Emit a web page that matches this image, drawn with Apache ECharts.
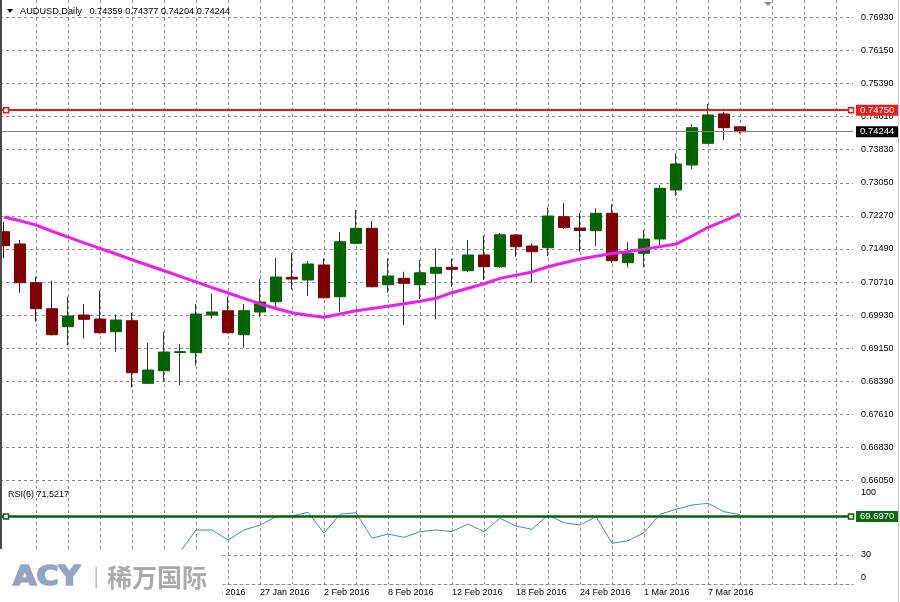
<!DOCTYPE html>
<html><head><meta charset="utf-8">
<script src="https://cdn.jsdelivr.net/npm/echarts@6/dist/echarts.min.js"></script>
<style>html,body{margin:0;padding:0;background:#fff}#c{width:900px;height:602px}</style>
</head><body><div id="c"></div>
<script>
// ---------------- data ----------------
const symbolName = 'AUDUSD,Daily';
const dates = ['5 Jan 2016','6 Jan 2016','7 Jan 2016','8 Jan 2016','11 Jan 2016','12 Jan 2016','13 Jan 2016','14 Jan 2016','15 Jan 2016','18 Jan 2016','19 Jan 2016','20 Jan 2016','21 Jan 2016','22 Jan 2016','25 Jan 2016','26 Jan 2016','27 Jan 2016','28 Jan 2016','29 Jan 2016',
 '1 Feb 2016','2 Feb 2016','3 Feb 2016','4 Feb 2016','5 Feb 2016','8 Feb 2016','9 Feb 2016','10 Feb 2016','11 Feb 2016','12 Feb 2016','15 Feb 2016','16 Feb 2016','17 Feb 2016','18 Feb 2016','19 Feb 2016','22 Feb 2016','23 Feb 2016','24 Feb 2016','25 Feb 2016','26 Feb 2016','29 Feb 2016',
 '1 Mar 2016','2 Mar 2016','3 Mar 2016','4 Mar 2016','7 Mar 2016','8 Mar 2016','9 Mar 2016'];
const opens  = [0.71896,0.71607,0.70698,0.70088,0.69665,0.69940,0.69846,0.69548,0.69806,0.68336,0.68632,0.69060,0.69055,0.69940,0.70041,0.69477,0.70011,0.70252,0.70825,0.70762,0.71114,0.70370,0.71623,0.71976,0.70651,0.70802,0.70651,0.70919,0.71060,0.70980,0.71349,0.71074,0.71819,0.71560,0.71520,0.72248,0.71983,0.71919,0.72328,0.71168,0.71389,0.71724,0.72875,0.73462,0.73971,0.74660,0.74359];
const highs  = [0.72131,0.71701,0.70839,0.70745,0.70370,0.70198,0.70511,0.69956,0.69994,0.69290,0.69548,0.69259,0.70198,0.70449,0.70370,0.70198,0.70785,0.71285,0.71403,0.71208,0.71271,0.71889,0.72406,0.72147,0.71271,0.70957,0.71232,0.71506,0.71262,0.71701,0.71802,0.71866,0.71842,0.71623,0.72469,0.72563,0.72328,0.72445,0.72539,0.71654,0.71936,0.72992,0.73737,0.74418,0.74894,0.74714,0.74377];
const lows   = [0.71271,0.70464,0.69783,0.69460,0.69229,0.69393,0.69500,0.69078,0.68242,0.68320,0.68374,0.68289,0.68750,0.69853,0.69500,0.69172,0.69886,0.70057,0.70543,0.70386,0.70330,0.70017,0.71600,0.70590,0.70464,0.69705,0.70316,0.69839,0.70604,0.70950,0.70762,0.71044,0.71309,0.70698,0.71325,0.71959,0.71426,0.71560,0.71154,0.71060,0.71060,0.71584,0.72734,0.73361,0.73960,0.74049,0.74204];
const closes = [0.71567,0.70698,0.70088,0.69477,0.69917,0.69839,0.69524,0.69823,0.68585,0.68649,0.69071,0.69080,0.69964,0.70011,0.69524,0.70041,0.70245,0.70832,0.70785,0.71137,0.70346,0.71661,0.71976,0.70604,0.70856,0.70684,0.70933,0.71060,0.71013,0.71349,0.71074,0.71826,0.71544,0.71426,0.72264,0.71994,0.71924,0.72328,0.71215,0.71389,0.71724,0.72915,0.73486,0.74338,0.74636,0.74338,0.74244];
const maValues = [0.72243,0.72152,0.72051,0.71907,0.71767,0.71635,0.71506,0.71372,0.71238,0.71109,0.70980,0.70849,0.70717,0.70584,0.70456,0.70332,0.70203,0.70093,0.69992,0.69933,0.69888,0.69966,0.70039,0.70093,0.70144,0.70203,0.70261,0.70334,0.70464,0.70569,0.70675,0.70801,0.70877,0.70952,0.71074,0.71168,0.71255,0.71321,0.71384,0.71430,0.71485,0.71546,0.71605,0.71795,0.72000,0.72152,0.72312];
const rsiValues = [30,22,18,14,24,22,19,27,15,22,30,33,55.7,55.7,45.4,55.7,60.8,69.4,70.1,73.9,52.3,71.9,73.5,47.1,51.5,48.1,53.9,55.7,54.1,61.9,53.9,67.7,59.8,56.4,71.1,63.2,60.8,69.4,42.0,44.6,52.9,71.9,77.0,81.4,83.2,74.5,71.5217];
const priceTickLabels = ['0.66050','0.66830','0.67610','0.68390','0.69150','0.69930','0.70710','0.71490','0.72270','0.73050','0.73830','0.74610','0.75390','0.76150','0.76930'];
const rsiTickLabels = {0:'0', 30:'30', 100:'100'};
const resistanceLevel = 0.7475;
const rsiLineLevel = 69.697;
const rsiLevels = [30, 70];
const rsiName = 'RSI(6)';

// ---------------- layout ----------------
const W = 900, H = 602;
const FONT = '"Liberation Sans", Arial, sans-serif';
const BAR_PX = 16, BAR0_PX = 4, PLOT_R = 853;
const xMin = (0 - BAR0_PX) / BAR_PX, xMax = (PLOT_R - BAR0_PX) / BAR_PX;
const PMIN = 0.6605, PSTEP = (0.7693 - 0.6605) / 14, PMAX = PMIN + 15 * PSTEP;
const GRID_PX = 33.1, P_BOTTOM = 480.7, P_TOP = P_BOTTOM - 15 * GRID_PX;
const RSI_TOP = 487, RSI_BOTTOM = 584;
const handleX = [(6 - BAR0_PX) / BAR_PX, (851 - BAR0_PX) / BAR_PX];
const gridColor = '#8a8a8a';
const last = dates.length - 1;

const candleData = dates.map((d, i) => [i, opens[i], closes[i], lows[i], highs[i]]);
const maData = maValues.map((v, i) => [i, v]);
const rsiData = rsiValues.map((v, i) => [i, v]);

function tag(text, bg) {
  return { show: true, position: 'end', distance: 3, formatter: text, backgroundColor: bg, color: '#fff',
    fontFamily: FONT, fontSize: 9.5, lineHeight: 10, padding: [1, 5, 0, 4], width: 34 };
}
function hline(y, lineStyle, label) {
  return [{ coord: [xMin, y], lineStyle: lineStyle, label: label || { show: false } }, { coord: [xMax, y] }];
}
function handles(y, color) {
  return { symbol: 'rect', symbolSize: 5, silent: true, animation: false, label: { show: false },
    itemStyle: { color: '#fff', borderColor: color, borderWidth: 1.5 },
    data: handleX.map(x => ({ coord: [x, y] })) };
}
const gridBase = { containLabel: false, outerBoundsMode: 'none' };

const chart = echarts.init(document.getElementById('c'), null, { renderer: 'canvas' });
chart.setOption({
  animation: false,
  backgroundColor: '#fff',
  grid: [
    Object.assign({ left: 0, right: W - PLOT_R, top: P_TOP, height: P_BOTTOM - P_TOP }, gridBase),
    Object.assign({ left: 0, right: W - PLOT_R, top: RSI_TOP, height: RSI_BOTTOM - RSI_TOP }, gridBase),
    Object.assign({ left: BAR0_PX + 2 * BAR_PX, right: W - (BAR0_PX + 52 * BAR_PX), top: 0, height: RSI_BOTTOM }, gridBase)
  ],
  xAxis: [
    { gridIndex: 0, type: 'value', min: xMin, max: xMax, show: false, splitLine: { show: false } },
    { gridIndex: 1, type: 'value', min: xMin, max: xMax, axisLabel: { show: false }, axisTick: { show: false },
      splitLine: { show: false }, axisLine: { show: true, lineStyle: { color: gridColor, type: [3, 3], width: 1 } } },
    { gridIndex: 2, type: 'value', min: 2, max: 52, interval: 2, axisLine: { show: false }, axisTick: { show: false },
      splitLine: { show: true, lineStyle: { color: gridColor, type: [3, 3], width: 1 } },
      axisLabel: { show: true, margin: 4, align: 'left', color: '#000', fontFamily: FONT, fontSize: 9,
        formatter: v => (v % 4 === 0 && v <= last) ? dates[v] : '' } }
  ],
  yAxis: [
    { gridIndex: 0, type: 'value', position: 'right', min: PMIN, max: PMAX, interval: PSTEP,
      axisLine: { show: false }, axisTick: { show: false },
      splitLine: { show: true, lineStyle: { color: gridColor, type: [3, 3], width: 1 } },
      axisLabel: { margin: 8, color: '#000', fontFamily: FONT, fontSize: 9,
        formatter: v => { const k = Math.round((v - PMIN) / PSTEP); return priceTickLabels[k] || ''; } } },
    { gridIndex: 1, type: 'value', position: 'right', min: 0, max: 100, interval: 10,
      axisLine: { show: false }, axisTick: { show: false }, splitLine: { show: false },
      axisLabel: { margin: 8, color: '#000', fontFamily: FONT, fontSize: 9, showMinLabel: true, showMaxLabel: true,
        formatter: v => { const r = Math.round(v); const t = rsiTickLabels[r]; if (!t) return '';
          if (r === 100) return '{t|' + t + '}'; if (r === 0) return '{b|' + t + '}'; return t; },
        rich: { t: { fontFamily: FONT, fontSize: 9, color: '#000', padding: [12, 0, 0, 0] },
                b: { fontFamily: FONT, fontSize: 9, color: '#000', padding: [0, 0, 12, 0] } } } },
    { gridIndex: 2, type: 'value', min: 0, max: 1, show: false, splitLine: { show: false } }
  ],
  series: [
    { type: 'candlestick', xAxisIndex: 0, yAxisIndex: 0, data: candleData, encode: { x: 0, y: [1, 2, 3, 4] },
      barWidth: 11, z: 2,
      itemStyle: { color: '#006400', color0: '#800000', borderColor: '#006400', borderColor0: '#800000', borderWidth: 1 } },
    { type: 'line', xAxisIndex: 0, yAxisIndex: 0, data: maData, showSymbol: false, symbol: 'none',
      lineStyle: { color: '#ee1eee', width: 3 }, z: 4,
      markLine: { silent: true, symbol: 'none', animation: false,
        data: [
          hline(closes[last], { color: '#808080', width: 1, type: 'solid' }, tag(closes[last].toFixed(5), '#000')),
          hline(resistanceLevel, { color: '#e41b1b', width: 2, type: 'solid' }, tag(resistanceLevel.toFixed(5), '#ee1c1c'))
        ] },
      markPoint: handles(resistanceLevel, '#e41b1b') },
    { type: 'line', xAxisIndex: 1, yAxisIndex: 1, data: rsiData, showSymbol: false, symbol: 'none',
      lineStyle: { color: '#3a8fb7', width: 1 },
      markLine: { silent: true, symbol: 'none', animation: false,
        data: rsiLevels.map(l => hline(l, { color: gridColor, type: [3, 3], width: 1 }))
          .concat([hline(rsiLineLevel, { color: '#0c5e0c', width: 2.5, type: 'solid' }, tag(rsiLineLevel.toFixed(4), '#0c6a0c'))]) },
      markPoint: handles(rsiLineLevel, '#0c5e0c') }
  ],
  graphic: [
    { type: 'rect', z: 50, shape: { x: 0, y: 0, width: 2, height: 549 }, style: { fill: '#4a4a4a' } },
    { type: 'rect', z: 50, shape: { x: 898, y: 0, width: 1, height: H }, style: { fill: '#c8c8c8' } },
    { type: 'polygon', z: 50, shape: { points: [[7, 9], [13, 9], [10, 13]] }, style: { fill: '#000' } },
    { type: 'text', z: 50, x: 20, y: 11, style: { text: symbolName + '   ' + [opens[last], highs[last], lows[last], closes[last]].map(v => v.toFixed(5)).join(' '),
      fontFamily: FONT, fontSize: 9.2, fill: '#000', verticalAlign: 'middle' } },
    { type: 'polygon', z: 50, shape: { points: [[764, 2], [772, 2], [768, 6]] }, style: { fill: '#8a8a8a' } },
    { type: 'text', z: 50, x: 8, y: 495, style: { text: rsiName + ' ' + rsiValues[last].toFixed(4),
      fontFamily: FONT, fontSize: 9, fill: '#000', verticalAlign: 'middle' } },
    { type: 'rect', z: 100, shape: { x: 0, y: 549.5, width: 222.5, height: H - 549.5 }, style: { fill: '#fff' } },
    { type: 'text', z: 101, x: 13, y: 578, scaleX: 1.12, style: { text: 'ACY', font: 'bold 27px "DejaVu Sans", sans-serif', fill: '#93a4c4', stroke: '#93a4c4', lineWidth: 1.6, verticalAlign: 'middle' } },
    { type: 'rect', z: 101, shape: { x: 95.5, y: 567, width: 1.5, height: 21 }, style: { fill: '#b8b8b8' } },
    { type: 'text', z: 101, x: 107, y: 577, style: { text: '稀万国际', font: 'bold 25px "Noto Sans CJK SC", sans-serif', fill: '#a9a9a9', verticalAlign: 'middle' } }
  ]
});
</script></body></html>
